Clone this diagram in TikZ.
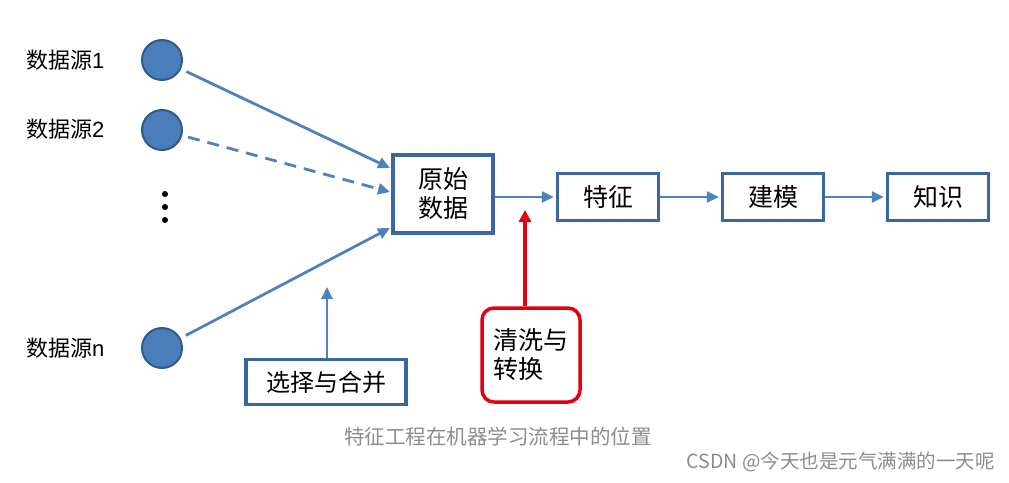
\documentclass[tikz,border=0pt]{standalone}
\usepackage{fontspec}
\setmainfont{Noto Sans CJK SC}
\newfontfamily\latinfont{Liberation Sans}
\usetikzlibrary{arrows.meta,calc}
\definecolor{bl}{HTML}{4F81BD}
\definecolor{bldark}{HTML}{3A679E}
\definecolor{cfill}{HTML}{4A7EBB}
\definecolor{cedge}{HTML}{2F5A8E}
\definecolor{rd}{HTML}{E3000F}
\definecolor{capgray}{HTML}{8C8C8C}
\tikzset{
  src/.style={circle, fill=cfill, draw=cedge, line width=2pt, minimum size=40pt, inner sep=0pt},
  srclabel/.style={anchor=west, font=\fontsize{22}{24}\selectfont, inner sep=0pt},
  boxnode/.style={draw=bldark, line width=3.5pt, fill=white, align=center, inner sep=0pt, font=\fontsize{25}{28}\selectfont},
  flow/.style={draw=bl, line width=2.8pt, -{Triangle[length=12pt,width=11pt]}},
  redflow/.style={draw=rd, line width=3.5pt, -{Triangle[length=12pt,width=12pt]}},
  redbox/.style={draw=rd, line width=3.5pt, rounded corners=12pt, fill=white, align=left, inner sep=0pt, font=\fontsize{25}{28}\selectfont},
  captext/.style={text=capgray, inner sep=0pt}
}
\begin{document}
\begin{tikzpicture}[x=1pt,y=-1pt]
\useasboundingbox (0,0) rectangle (1009,482);
% sources
\node[src] (s1) at (162,60) {};
\node[src] (s2) at (162,130) {};
\node[src] (sn) at (162,348) {};
\node[srclabel] (l1) at (26,60) {数据源\latinfont 1};
\node[srclabel] (l2) at (26,129) {数据源\latinfont 2};
\node[srclabel] (ln) at (26,348) {数据源\latinfont n};
% vertical dots
\fill[black] (165,194) circle (3pt) (165,207) circle (3pt) (165,220) circle (3pt);
% main boxes
\node[boxnode, minimum width=100pt, minimum height=78pt, text width=90pt] (raw) at (443,194) {原始\\[1pt]数据};
\node[boxnode, minimum width=101pt, minimum height=47pt] (feat) at (608,197) {特征};
\node[boxnode, minimum width=101pt, minimum height=47pt] (model) at (773,197) {建模};
\node[boxnode, minimum width=101pt, minimum height=47pt] (know) at (938,197) {知识};
\node[boxnode, minimum width=160pt, minimum height=45pt, font=\fontsize{24}{26}\selectfont] (sel) at (326,382) {选择与合并};
\node[redbox, minimum width=98pt, minimum height=94pt, text width=76pt] (clean) at (531,355) {清洗与\\[1pt]转换};
% inputs
\coordinate (in1) at (390,168);
\coordinate (in2) at (390,192);
\coordinate (in3) at (390,228);
\coordinate (selTip) at (327,287);
\coordinate (cleanTip) at (525,210);
\draw[flow, shorten <=6pt] (s1) -- (in1);
\draw[flow, dashed, dash pattern=on 12pt off 8pt, shorten <=6pt] (s2) -- (in2);
\draw[flow, shorten <=6pt] (sn) -- (in3);
\draw[flow] (sel.north -| selTip) -- (selTip);
\draw[redflow] (clean.north -| cleanTip) -- (cleanTip);
% chain
\draw[flow, shorten >=2pt] (raw.east |- feat.west) -- (feat.west);
\draw[flow, shorten >=2pt] (feat.east) -- (model.west);
\draw[flow, shorten >=2pt] (model.east) -- (know.west);
% captions
\node[captext, font=\fontsize{20.5}{22}\selectfont] (cap) at (498,437) {特征工程在机器学习流程中的位置};
\node[captext, anchor=east, font=\fontsize{19.5}{21}\selectfont] (wm) at (995,462) {CSDN @今天也是元气满满的一天呢};
\end{tikzpicture}
\end{document}
